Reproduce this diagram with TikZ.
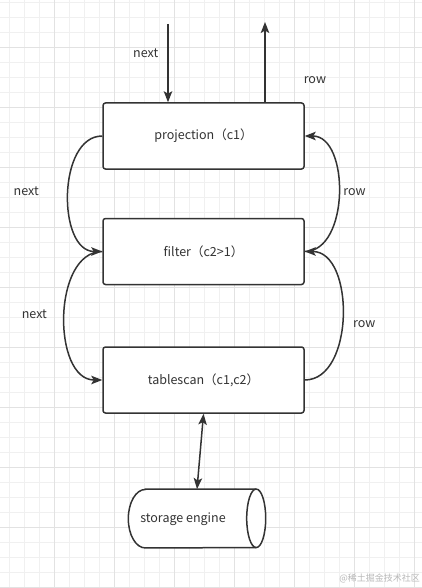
\documentclass[tikz,border=0pt]{standalone}
\usepackage{fontspec}
\setmainfont{Noto Sans CJK SC}
\usetikzlibrary{positioning,arrows.meta}
\definecolor{ink}{HTML}{333333}
\definecolor{gridminor}{HTML}{F0F0F0}
\definecolor{gridmajor}{HTML}{E2E2E2}
\tikzset{
    opbox/.style={draw=ink, line width=1.5pt, rounded corners=2.5pt, fill=white,
        minimum width=201pt, minimum height=66pt, text=ink, font=\fontsize{12.5}{15}\selectfont},
    lbl/.style={inner sep=0pt, text=ink, font=\fontsize{12.5}{15}\selectfont},
    tip/.tip={Stealth[length=11pt, width=8.5pt, inset=2.5pt]},
    flow/.style={draw=ink, line width=1.5pt, -tip}
}

\begin{document}
\begin{tikzpicture}[x=1pt, y=-1pt]
        \useasboundingbox (0,0) rectangle (422,588);
        % background grid
        \fill[white] (0,0) rectangle (422,588);
        \foreach \i in {0,...,27} {
            \draw[gridminor, line width=0.8pt] (9+15*\i,0) -- (9+15*\i,588);
        }
        \foreach \i in {0,...,39} {
            \draw[gridminor, line width=0.8pt] (0,2+15*\i) -- (422,2+15*\i);
        }
        \foreach \i in {0,...,6} {
            \draw[gridmajor, line width=0.8pt] (54+60*\i,0) -- (54+60*\i,588);
        }
        \foreach \i in {0,...,9} {
            \draw[gridmajor, line width=0.8pt] (0,47+60*\i) -- (422,47+60*\i);
        }

        \begin{scope}[every node/.style={opbox}]
            \node (proj) at (203.5,136) {projection（c1）};
            \node (filter) [below=48pt of proj] {filter（c2>1）};
            \node (scan) [below=61pt of filter] {tablescan（c1,c2）};
        \end{scope}

        % storage cylinder
        \node (store) [minimum width=137pt, minimum height=58.5pt, inner sep=0pt] at (197,518.5) {};
        \draw[ink, line width=1.5pt, fill=white]
            ([xshift=17pt]store.north west) -- ([xshift=-9.5pt]store.north east)
            arc[start angle=90, end angle=-90, x radius=9.5pt, y radius=29.25pt]
            -- ([xshift=17pt]store.south west)
            arc[start angle=270, end angle=90, x radius=17pt, y radius=29.25pt] -- cycle;
        \draw[ink, line width=1.5pt] ([xshift=-9.5pt]store.north east)
            arc[start angle=90, end angle=270, x radius=9.5pt, y radius=29.25pt];
        \node[lbl] (storetext) at (183,519) {storage engine};

        \coordinate (in) at (168,24);
        \coordinate (out) at (265,22);

        \begin{scope}[every node/.style={lbl}]
            \draw[flow] (in) -- node[pos=0.37, left=9pt] {next} (in |- proj.north);
            \draw[flow] (out |- proj.north) -- node[pos=0.27, right=38pt] {row} (out);
            \draw[flow] (proj.west) to[out=180, in=180] node[left=29pt, yshift=3pt] {next} (filter.west);
            \draw[flow] (filter.east) to[out=0, in=0] node[right=4pt, yshift=2pt] {row} (proj.east);
            \draw[flow] (filter.west) to[out=180, in=180] node[left=17pt, yshift=2pt] {next} (scan.west);
            \draw[flow] (scan.east) to[out=0, in=0] node[right=10pt, yshift=-8pt] {row} (filter.east);
            \draw[flow, tip-tip] (scan.south) -- (store.north);
        \end{scope}

        \node[inner sep=0pt, text=black!28, font=\fontsize{9}{10}\selectfont, anchor=east] (mark) at (420,578) {@稀土掘金技术社区};
    \end{tikzpicture}
\end{document}
